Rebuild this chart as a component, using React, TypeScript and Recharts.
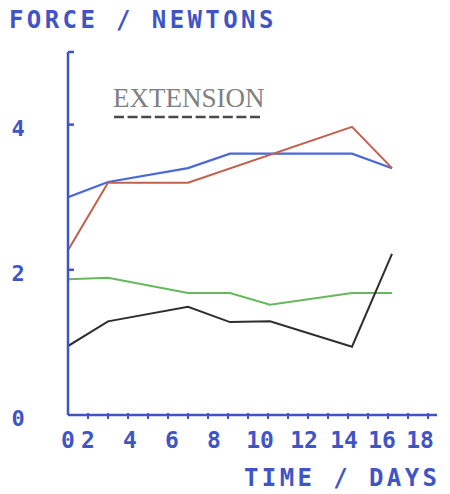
import React from "react";
import { LineChart, Line, XAxis, YAxis, Legend } from "recharts";

// ---- data ----
const days = [0, 2, 6, 8.1, 10.1, 14.2, 16.2];
const blueForce = [3.0, 3.21, 3.4, 3.6, 3.6, 3.6, 3.4];
const redDays = [0, 2, 6, 14.2, 16.2];
const redForce = [2.27, 3.2, 3.2, 3.97, 3.4];
const greenForce = [1.87, 1.89, 1.68, 1.68, 1.52, 1.68, 1.68];
const blackForce = [0.95, 1.29, 1.49, 1.28, 1.29, 0.94, 2.22];

const xMinorTicks = [0, 1, 2, 3, 4, 5, 6, 7, 8, 9, 10, 11, 12, 13, 14, 15, 16, 17, 18];
const xLabelTicks = [0, 1, 3.1, 5.2, 7.3, 9.6, 11.8, 13.8, 15.7, 17.6];
const xTickLabels = ["0", "2", "4", "6", "8", "10", "12", "14", "16", "18"];
const yTicks = [0, 2, 4, 5];
const yTickLabels = ["0", "2", "4", ""];

const yTitle = "FORCE / NEWTONS";
const xTitle = "TIME / DAYS";
const legendText = "EXTENSION";

const toRows = (xs: number[], ys: number[]) => xs.map((d, i) => ({ d, f: ys[i] }));
const blueData = toRows(days, blueForce);
const redData = toRows(redDays, redForce);
const greenData = toRows(days, greenForce);
const blackData = toRows(days, blackForce);

const AXIS = "#3f55c6";
const FONT = "'DejaVu Sans Mono', monospace";

const YTick = (props: any) => {
  const { x, y, payload, index } = props;
  return (
    <g>
      {payload.value !== 0 && (
        <line x1={x} y1={y} x2={x + 6} y2={y} stroke={AXIS} strokeWidth={2.5} />
      )}
      <text
        x={10}
        y={y + 11}
        textAnchor="middle"
        fill={AXIS}
        fontFamily={FONT}
        fontWeight="bold"
        fontSize={22}
      >
        {yTickLabels[index]}
      </text>
    </g>
  );
};

const XMinorTick = (props: any) => {
  const { x, y, payload } = props;
  if (payload.value === 0) return <g />;
  return <line x1={x} y1={y - 2} x2={x} y2={y + 4} stroke={AXIS} strokeWidth={2} />;
};

const XLabelTick = (props: any) => {
  const { x, y, index } = props;
  return (
    <text
      x={x}
      y={y + 23}
      textAnchor="middle"
      fill={AXIS}
      fontFamily={FONT}
      fontWeight="bold"
      fontSize={23}
    >
      {xTickLabels[index]}
    </text>
  );
};

const LegendContent = () => (
  <svg width={200} height={48}>
    <text
      x={0}
      y={27}
      fill="#808080"
      fontFamily="'Liberation Serif', serif"
      fontSize={27}
    >
      {legendText}
    </text>
    <line x1={1} y1={37} x2={150} y2={37} stroke="#4a4a4a" strokeWidth={2.5} strokeDasharray="10 3.6" />
  </svg>
);

const titleStyle: React.CSSProperties = {
  position: "absolute",
  fontFamily: FONT,
  fontWeight: "bold",
  fontSize: 24,
  lineHeight: "24px",
  letterSpacing: 3.4,
  color: AXIS,
  whiteSpace: "nowrap",
};

export default function App() {
  return (
    <div style={{ position: "relative", width: 442, height: 486, background: "#fff" }}>
      <div style={{ ...titleStyle, left: 1, top: 0 }}>{yTitle}</div>
      <div style={{ ...titleStyle, left: 236, top: 458 }}>{xTitle}</div>
      <LineChart
        width={442}
        height={486}
        margin={{ top: 44, right: 13, bottom: 39, left: 0 }}
        style={{ position: "absolute", left: 0, top: 0 }}
      >
        <XAxis
          xAxisId="a"
          dataKey="d"
          type="number"
          domain={[0, 18.45]}
          ticks={xMinorTicks}
          allowDataOverflow
          height={10}
          tickSize={0}
          tickMargin={0}
          tick={<XMinorTick />}
          axisLine={{ stroke: AXIS, strokeWidth: 2.5 }}
          tickLine={false}
          interval={0}
        />
        <XAxis
          xAxisId="b"
          dataKey="d"
          type="number"
          domain={[0, 18.45]}
          ticks={xLabelTicks}
          allowDataOverflow
          height={30}
          tickSize={0}
          tickMargin={0}
          tick={<XLabelTick />}
          axisLine={false}
          tickLine={false}
          interval={0}
        />
        <YAxis
          type="number"
          domain={[0, 5]}
          ticks={yTicks}
          width={60}
          tickSize={0}
          tickMargin={0}
          tick={<YTick />}
          axisLine={{ stroke: AXIS, strokeWidth: 2.5 }}
          tickLine={false}
          interval={0}
        />
        <Legend
          layout="vertical"
          align="center"
          verticalAlign="middle"
          content={<LegendContent />}
          wrapperStyle={{ position: "absolute", left: 105, top: 72, width: 200, height: 48 }}
        />
        <Line xAxisId="a" data={blueData} dataKey="f" stroke="#4a68d8" strokeWidth={2.2} dot={false} isAnimationActive={false} />
        <Line xAxisId="a" data={redData} dataKey="f" stroke="#c2604e" strokeWidth={2} dot={false} isAnimationActive={false} />
        <Line xAxisId="a" data={greenData} dataKey="f" stroke="#66b85c" strokeWidth={2} dot={false} isAnimationActive={false} />
        <Line xAxisId="a" data={blackData} dataKey="f" stroke="#2e2e2e" strokeWidth={2} dot={false} isAnimationActive={false} />
      </LineChart>
    </div>
  );
}
